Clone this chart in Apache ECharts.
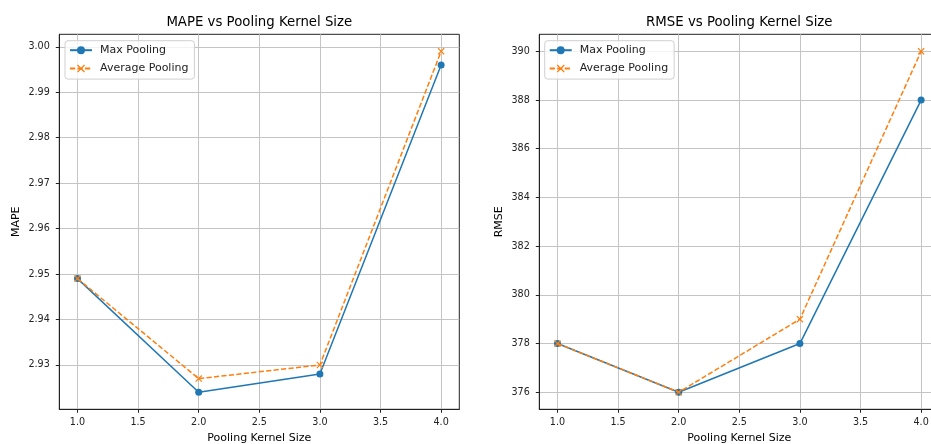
<!DOCTYPE html>
<html>
<head>
<meta charset="utf-8">
<script src="https://cdn.jsdelivr.net/npm/echarts@6/dist/echarts.min.js"></script>
<style>
html,body{margin:0;padding:0;background:#fff;}
#chart{width:931px;height:444px;}
</style>
</head>
<body>
<div id="chart"></div>
<script>
// ---- data ----
const kernelSizes = [1, 2, 3, 4];
const mapeMax = [2.949, 2.924, 2.928, 2.996];
const mapeAvg = [2.949, 2.927, 2.930, 2.999];
const rmseMax = [378, 376, 378, 388];
const rmseAvg = [378, 376, 379, 390];
const xTicks = [1.0, 1.5, 2.0, 2.5, 3.0, 3.5, 4.0];
const mapeTicks = [2.93, 2.94, 2.95, 2.96, 2.97, 2.98, 2.99, 3.00];
const rmseTicks = [376, 378, 380, 382, 384, 386, 388, 390];
const seriesNames = ['Max Pooling', 'Average Pooling'];
const titles = ['MAPE vs Pooling Kernel Size', 'RMSE vs Pooling Kernel Size'];
const yNames = ['MAPE', 'RMSE'];
const xName = 'Pooling Kernel Size';

// ---- styling ----
const FONT = 'DejaVu Sans';
const BLUE = '#1f77b4';
const ORANGE = '#ff7f0e';
const X_PATH = 'path://M0,1.2L1.2,0L5,3.8L8.8,0L10,1.2L6.2,5L10,8.8L8.8,10L5,6.2L1.2,10L0,8.8L3.8,5Z';

const grids = [
  {left: 59.3, top: 34.3, width: 400, height: 375},
  {left: 539.3, top: 34.3, width: 400, height: 375}
];

function pairs(ys) { return kernelSizes.map((x, i) => [x, ys[i]]); }

function xAxis(idx) {
  return {
    type: 'value', gridIndex: idx, min: 0.85, max: 4.15,
    name: xName, nameLocation: 'middle', nameGap: 23,
    nameTextStyle: {fontFamily: FONT, fontSize: 11, color: '#000'},
    axisLine: {show: true, onZero: false, lineStyle: {color: '#222', width: 1}},
    axisTick: {show: true, inside: false, length: 3.5, customValues: xTicks, lineStyle: {color: '#222'}},
    axisLabel: {customValues: xTicks, fontFamily: FONT, fontSize: 9.6, color: '#222', margin: 8.5,
      formatter: v => Number(v).toFixed(1)},
    splitLine: {show: true, lineStyle: {color: '#c4c4c4', width: 1}}
  };
}
function yAxis(idx, min, max, ticks, dec) {
  return {
    type: 'value', gridIndex: idx, min: min, max: max,
    name: yNames[idx], nameLocation: 'middle', nameGap: idx === 0 ? 38 : 35,
    nameTextStyle: {fontFamily: FONT, fontSize: 11, color: '#000'},
    axisLine: {show: true, lineStyle: {color: '#222', width: 1}},
    axisTick: {show: true, inside: false, length: 3.5, customValues: ticks, lineStyle: {color: '#222'}},
    axisLabel: {customValues: ticks, fontFamily: FONT, fontSize: 9.6, color: '#222', margin: 9.5,
      formatter: v => Number(v).toFixed(dec)},
    splitLine: {show: true, lineStyle: {color: '#c4c4c4', width: 1}}
  };
}
function maxSeries(idx, ys) {
  return {
    name: seriesNames[0], type: 'line', xAxisIndex: idx, yAxisIndex: idx,
    data: pairs(ys), symbol: 'circle', symbolSize: 7, showSymbol: true,
    itemStyle: {color: BLUE}, lineStyle: {color: BLUE, width: 1.5}, z: 3
  };
}
function avgSeries(idx, ys) {
  return {
    name: seriesNames[1], type: 'line', xAxisIndex: idx, yAxisIndex: idx,
    data: pairs(ys), symbol: X_PATH, symbolSize: 7, showSymbol: true,
    itemStyle: {color: ORANGE}, lineStyle: {color: ORANGE, width: 1.5, type: [5.2, 2.3]}, z: 4
  };
}
function legend(left) {
  return {
    orient: 'vertical', left: left, top: 40.7, data: seriesNames,
    itemWidth: 22, itemHeight: 10, itemGap: 7.4,
    padding: [4, 6, 5, 4],
    backgroundColor: 'rgba(255,255,255,0.8)', borderColor: '#d0d0d0', borderWidth: 1, borderRadius: 3,
    textStyle: {fontFamily: FONT, fontSize: 11, color: '#222', lineHeight: 10, padding: [0, 0, 0, 3]}
  };
}

const chart = echarts.init(document.getElementById('chart'));
chart.setOption({
  animation: false,
  backgroundColor: '#fff',
  title: [
    {text: titles[0], left: 259.3, top: 16.5, textAlign: 'center', padding: 0,
      textStyle: {fontFamily: FONT, fontSize: 13.3, fontWeight: 'normal', color: '#000'}},
    {text: titles[1], left: 739.3, top: 16.5, textAlign: 'center', padding: 0,
      textStyle: {fontFamily: FONT, fontSize: 13.3, fontWeight: 'normal', color: '#000'}}
  ],
  legend: [legend(65), legend(544.7)],
  grid: grids.map(g => Object.assign({show: true, borderColor: '#222', borderWidth: 1,
    backgroundColor: 'transparent', containLabel: false, outerBoundsMode: 'none'}, g)),
  xAxis: [xAxis(0), xAxis(1)],
  yAxis: [
    yAxis(0, 2.92025, 3.00275, mapeTicks, 2),
    yAxis(1, 375.3, 390.7, rmseTicks, 0)
  ],
  series: [
    maxSeries(0, mapeMax), avgSeries(0, mapeAvg),
    maxSeries(1, rmseMax), avgSeries(1, rmseAvg)
  ]
});
</script>
</body>
</html>
